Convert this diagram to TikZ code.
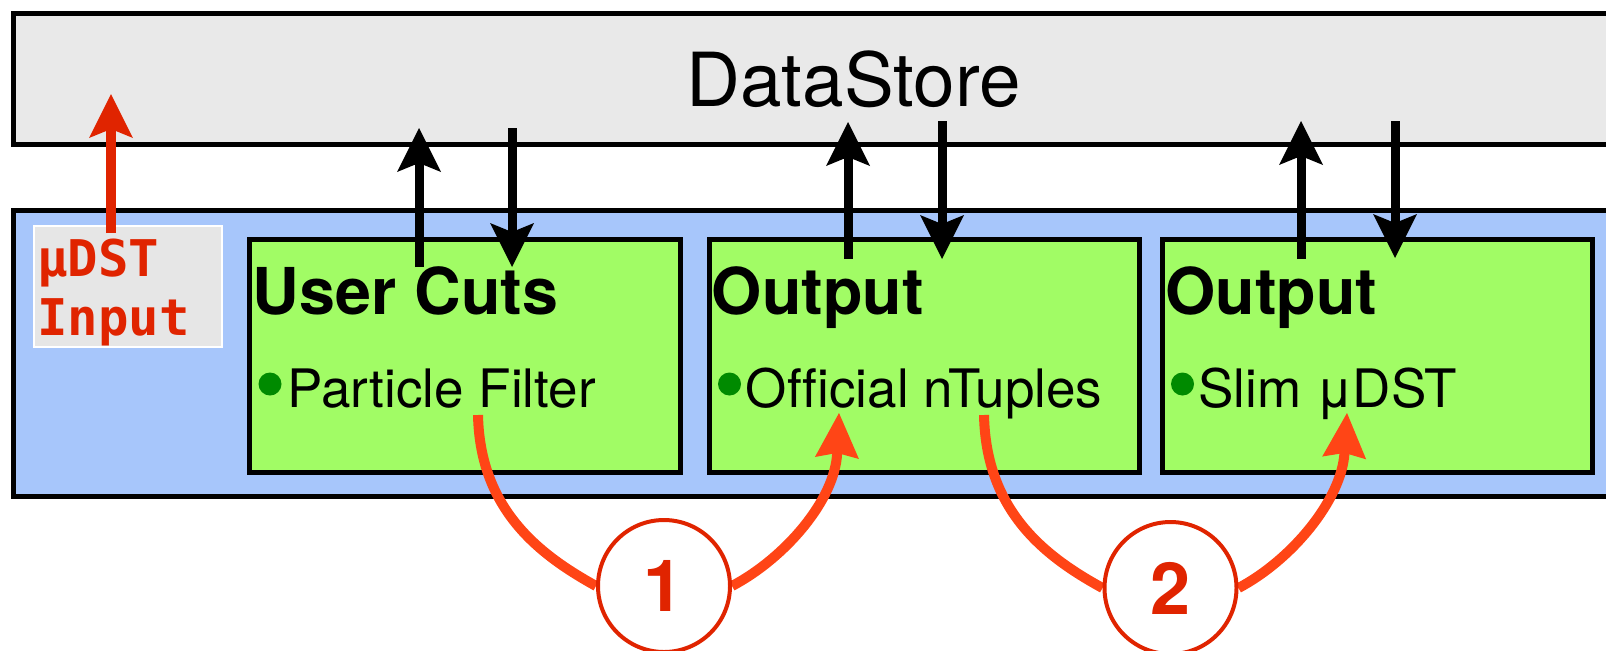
\documentclass[tikz,border=0pt]{standalone}
\usepackage{fontspec}
\setmainfont{TeX Gyre Heros}[Ligatures=NoCommon]
\newfontfamily\codefont{DejaVu Sans Mono}
\usetikzlibrary{arrows.meta,calc}

\definecolor{storegray}{HTML}{E9E9E9}
\definecolor{laneblue}{HTML}{A7C6FB}
\definecolor{modgreen}{HTML}{A1FC65}
\definecolor{dotgreen}{HTML}{008A00}
\definecolor{inred}{HTML}{E02400}
\definecolor{flowred}{HTML}{FF4516}
\definecolor{inputgray}{HTML}{E6E6E6}

\pgfdeclarelayer{front}
\pgfsetlayers{main,front}

\tikzset{
  panel/.style={draw=black, line width=2.5pt, outer sep=0pt, inner sep=0pt, anchor=north west},
  module/.style={panel, fill=modgreen, minimum height=116.5pt},
  title/.style={anchor=base west, inner sep=0pt, font=\bfseries\fontsize{32.3}{36}\selectfont},
  item/.style={anchor=base west, inner sep=0pt, font=\fontsize{26.5}{30}\selectfont},
  bullet/.style={circle, fill=dotgreen, minimum size=11.5pt, inner sep=0pt},
  dsarrow/.style={draw=black, line width=4.5pt,
    -{Stealth[length=22pt, width=22pt, inset=4.5pt, line width=0pt]}},
  inarrow/.style={draw=inred, line width=5pt,
    -{Stealth[length=22pt, width=22pt, inset=4.5pt, line width=0pt]}},
  flow/.style={draw=flowred, line width=5pt},
  flowtip/.style={flow, -{Stealth[length=22.5pt, width=22pt, inset=2.5pt, line width=0pt]}},
  badge/.style={circle, draw=inred, line width=2pt, fill=white, minimum size=66pt,
    inner sep=0pt, text=inred, font=\bfseries\fontsize{36}{36}\selectfont},
  intext/.style={anchor=base west, inner sep=0pt, text=inred,
    font=\codefont\bfseries\fontsize{25.3}{29.5}\selectfont}
}

\begin{document}
\begin{tikzpicture}[x=0.5pt, y=-0.5pt]
\useasboundingbox (0,0) rectangle (1606,650);

% shared data store
\node[panel, fill=storegray, minimum width=840pt, minimum height=65.5pt,
      font=\fontsize{37.3}{44}\selectfont] (store) at (13.5,13.5) {DataStore};

% module lane
\node[panel, fill=laneblue, minimum width=900pt, minimum height=142.75pt] (lane) at (13.5,210.5) {};

% input box
\node[draw=white, line width=1pt, fill=inputgray, outer sep=0pt, inner sep=0pt,
      anchor=north west, minimum width=94pt, minimum height=60.5pt] (inbox) at (34,226) {};
\node[intext] (inA) at (37,276) {μDST};
\node[intext] (inB) at (37,335) {Input};

% modules
\node[module, minimum width=215.5pt] (m1) at (249.5,239.5) {};
\node[module, minimum width=215pt] (m2) at (709.5,239.5) {};
\node[module, minimum width=215pt] (m3) at (1162.5,239.5) {};

\node[title] (t1) at (252.5,314) {User Cuts};
\node[title] (t2) at (711.5,314) {Output};
\node[title] (t3) at (1165,314) {Output};

\node[bullet] (d1) at (270,384) {};
\node[bullet] (d2) at (729.5,384) {};
\node[bullet] (d3) at (1182.5,384) {};

\node[item] (i1) at (287,407) {Particle Filter};
\node[item] (i2) at (745.5,407) {Official nTuples};
\node[item] (i3) at (1198,407) {Slim μDST};

% read / write arrows to the store
\coordinate (u1a) at (419,267);  \coordinate (u1b) at (419,128);
\coordinate (w1a) at (512,128);  \coordinate (w1b) at (512,267);
\coordinate (u2a) at (848,259);  \coordinate (u2b) at (848,122);
\coordinate (w2a) at (942,121);  \coordinate (w2b) at (942,259);
\coordinate (u3a) at (1301,259); \coordinate (u3b) at (1301,121);
\coordinate (w3a) at (1395,121); \coordinate (w3b) at (1395,258);
\draw[dsarrow] (u1a) -- (u1b);
\draw[dsarrow] (w1a) -- (w1b);
\draw[dsarrow] (u2a) -- (u2b);
\draw[dsarrow] (w2a) -- (w2b);
\draw[dsarrow] (u3a) -- (u3b);
\draw[dsarrow] (w3a) -- (w3b);

% input into the store
\coordinate (ina) at (111,233);
\coordinate (inb) at (111,94);
\draw[inarrow] (ina) -- (inb);

% numbered steps, kept in front of the flow curves
\begin{pgfonlayer}{front}
\node[badge] (c1) at (664,586) {1};
\node[badge] (c2) at (1170.5,588) {2};
\end{pgfonlayer}

% flow between modules
\coordinate (f1s) at (478,415);
\coordinate (f1t) at (839,413);
\coordinate (f2s) at (984,415);
\coordinate (f2t) at (1347,413);

\draw[flow] (f1s) .. controls (480,510) and (540,555) .. (c1.west);
\draw[flowtip] (c1.east) .. controls (785,558) and (835,500) .. (f1t);
\draw[flow] (f2s) .. controls (986,512) and (1046,557) .. (c2.west);
\draw[flowtip] (c2.east) .. controls (1291.5,560) and (1341.5,500) .. (f2t);
\end{tikzpicture}
\end{document}
